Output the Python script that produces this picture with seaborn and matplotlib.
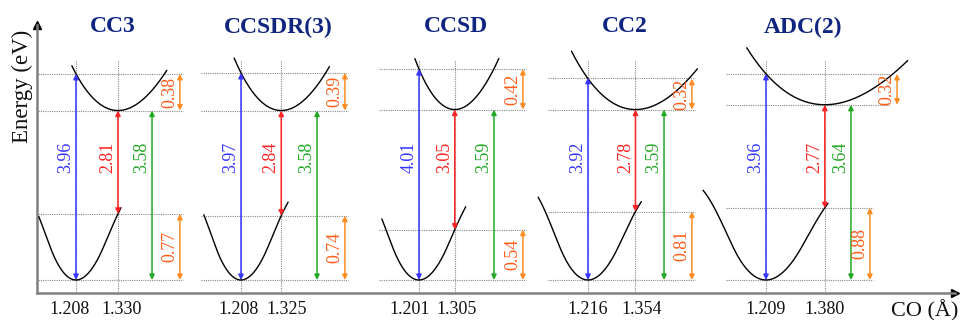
import numpy as np
import matplotlib
matplotlib.use("Agg")
import matplotlib.pyplot as plt
import seaborn as sns
from matplotlib.transforms import blended_transform_factory, ScaledTranslation

sns.set_theme(style="white")
plt.rcParams["font.family"] = ["Liberation Serif", "DejaVu Serif"]

# ---- data -------------------------------------------------------------
methods = ["CC3", "CCSDR(3)", "CCSD", "CC2", "ADC(2)"]
r_ground = [1.208, 1.208, 1.201, 1.216, 1.209]    # C-O length at S0 minimum (Å)
r_excited = [1.330, 1.325, 1.305, 1.354, 1.380]   # C-O length at S1 minimum (Å)
e_vertical = [3.96, 3.97, 4.01, 3.92, 3.96]       # vertical absorption (eV)
e_emission = [2.81, 2.84, 3.05, 2.78, 2.77]       # vertical emission (eV)
e_adiabatic = [3.58, 3.58, 3.59, 3.59, 3.64]      # adiabatic excitation (eV)
relax_excited = [0.38, 0.39, 0.42, 0.32, 0.32]    # S1 relaxation (eV)
relax_ground = [0.77, 0.74, 0.54, 0.81, 0.88]     # S0 destabilisation at S1 geometry (eV)

# ---- layout -----------------------------------------------------------
PX_PER_A = 344.0                       # canvas pixels per Å
panel_px = [76, 241, 419, 588, 766]    # where each S0 minimum sits on the canvas
panel_x = [p / PX_PER_A for p in panel_px]
lvl_left, lvl_right = -0.116, 0.311
lvl_right_top = [0.311, 0.311, 0.311, 0.311, 0.36]
green_dx = [0.221, 0.221, 0.218, 0.221, 0.247]
orange_dx_bot = 0.302
orange_dx_top = [0.302, 0.302, 0.302, 0.302, 0.381]
title_dx = 0.108
g_left = [0.108, 0.108, 0.108, 0.145, 0.183]
g_right = [0.009, 0.020, 0.032, 0.017, 0.009]
x_left = [0.134, 0.137, 0.116, 0.186, 0.227]
x_right = [0.142, 0.140, 0.128, 0.180, 0.241]
A_G, A_X = 0.8, 0.8
# horizontal nudges (px) keeping neighbouring tick labels apart
tick_nudge = [(-6, 4), (-2, 5), (-9, 2), (0, 6), (0, 0)]

C_BLUE, C_RED, C_GREEN = "#3636ff", "#ff2424", "#22a822"
C_OR_ARROW, C_OR_TEXT = "#ff8c22", "#ff5c18"
C_TITLE = "#0f2580"
C_GRID = "#8a8a8a"


# schematic energy axis: linear at the bottom and top, compressed in between
def _smooth(t):
    t = np.clip(t, 0.0, 1.0)
    return 3 * t ** 2 - 2 * t ** 3


def e_fwd(e):
    e = np.asarray(e, dtype=float)
    return 96.5 * e - 176.0 * _smooth((e - 0.35) / 3.23)


_E_GRID = np.linspace(-3, 8, 4001)
_H_GRID = e_fwd(_E_GRID)


def e_inv(h):
    return np.interp(np.asarray(h, dtype=float), _H_GRID, _E_GRID)


def morse(r, r0, r_ref, e_ref, a):
    d = e_ref / (1 - np.exp(-a * (r_ref - r0))) ** 2
    return d * (1 - np.exp(-a * (r - r0))) ** 2


fig = plt.figure(figsize=(9.6, 3.2), dpi=100)
ax = fig.add_axes([37 / 960, 27 / 320, 918 / 960, 268 / 320])
ax.set_yscale("function", functions=(e_fwd, e_inv))
ax.set_xlim(37 / PX_PER_A, 955 / PX_PER_A)
ax.set_ylim(e_inv(-13), e_inv(255))

ytop_guides = e_inv(220)
blend_fig = blended_transform_factory(ax.transData, fig.transFigure)
blend_ax = blended_transform_factory(ax.transData, ax.transAxes)


def arrow(x, e0, e1, color):
    ax.annotate("", xy=(x, e1), xytext=(x, e0),
                arrowprops=dict(arrowstyle="<|-|>", color=color, lw=1.1,
                                mutation_scale=7.5, shrinkA=0, shrinkB=0),
                zorder=4)


def vlabel(x, y, txt, color, trans):
    ax.annotate(txt, xy=(x, y), xycoords=trans, xytext=(-7.3, 0),
                textcoords="offset points", rotation=90, ha="center",
                va="center", color=color, fontsize=13, zorder=5)


tick_pos, tick_lab, tick_dx = [], [], []
for i, name in enumerate(methods):
    rg, re_ = r_ground[i], r_excited[i]
    xg = panel_x[i]
    xe = xg + (re_ - rg)
    tick_pos += [xg, xe]
    tick_lab += [f"{rg:.3f}", f"{re_:.3f}"]
    tick_dx += list(tick_nudge[i])

    # guide lines
    for xv in (xg, xe):
        ax.plot([xv, xv], [ax.get_ylim()[0], ytop_guides], color=C_GRID,
                lw=0.8, ls=(0, (1, 1)), zorder=1)
    for lvl in (0.0, relax_ground[i]):
        ax.plot([xg + lvl_left, xg + lvl_right], [lvl, lvl], color=C_GRID,
                lw=0.8, ls=(0, (1, 1)), zorder=1)
    for lvl in (e_adiabatic[i], e_vertical[i]):
        ax.plot([xg + lvl_left, xg + lvl_right_top[i]], [lvl, lvl],
                color=C_GRID, lw=0.8, ls=(0, (1, 1)), zorder=1)

    # potential energy curves
    rr = np.linspace(rg - g_left[i], re_ + g_right[i], 200)
    vg = morse(rr, rg, re_, relax_ground[i], A_G)
    sns.lineplot(x=xg + (rr - rg), y=vg, ax=ax, color="black", lw=1.0,
                 sort=False, estimator=None, zorder=3)
    rr = np.linspace(re_ - x_left[i], re_ + x_right[i], 200)
    vx = e_adiabatic[i] + morse(rr, re_, rg, relax_excited[i], A_X)
    sns.lineplot(x=xg + (rr - rg), y=vx, ax=ax, color="black", lw=1.0,
                 sort=False, estimator=None, zorder=3)

    # transitions
    arrow(xg, 0.0, e_vertical[i], C_BLUE)
    vlabel(xg, 0.505, f"{e_vertical[i]:.2f}", C_BLUE, blend_ax)
    arrow(xe, e_adiabatic[i], e_adiabatic[i] - e_emission[i], C_RED)
    vlabel(xe, 0.505, f"{e_emission[i]:.2f}", C_RED, blend_ax)
    xgr = xg + green_dx[i]
    arrow(xgr, 0.0, e_adiabatic[i], C_GREEN)
    vlabel(xgr, 0.505, f"{e_adiabatic[i]:.2f}", C_GREEN, blend_ax)

    xo = xg + orange_dx_top[i]
    top0, top1 = e_adiabatic[i], e_adiabatic[i] + relax_excited[i]
    arrow(xo, top0, top1, C_OR_ARROW)
    ymid = e_inv((e_fwd(top0) + e_fwd(top1)) / 2)
    vlabel(xo, ymid, f"{relax_excited[i]:.2f}", C_OR_TEXT, "data")
    xo = xg + orange_dx_bot
    arrow(xo, 0.0, relax_ground[i], C_OR_ARROW)
    ymid = e_inv(e_fwd(relax_ground[i]) / 2)
    vlabel(xo, ymid, f"{relax_ground[i]:.2f}", C_OR_TEXT, "data")

    ax.text(xg + title_dx, 1 - 27 / 320, name, transform=blend_fig,
            ha="center", va="center", fontsize=17, fontweight="bold",
            color=C_TITLE)

# axes with arrowheads
for side in ("top", "right"):
    ax.spines[side].set_visible(False)
for side in ("left", "bottom"):
    ax.spines[side].set_color("#808080")
    ax.spines[side].set_linewidth(1.8)
ax.plot(1, 0, ">", color="black", ms=6, transform=ax.transAxes, clip_on=False)
ax.plot(0, 1, "^", color="black", ms=6, transform=ax.transAxes, clip_on=False)

ax.set_xticks(tick_pos)
ax.set_xticklabels(tick_lab)
ax.set_yticks([])
ax.yaxis.set_minor_locator(matplotlib.ticker.NullLocator())
ax.tick_params(axis="x", length=0, pad=6, labelsize=13, labelcolor="#111111")
for lab, dx in zip(ax.get_xticklabels(), tick_dx):
    lab.set_transform(lab.get_transform()
                      + ScaledTranslation(dx / 100, 0, fig.dpi_scale_trans))

fig.text(22 / 960, 1 - 86 / 320, "Energy (eV)", rotation=90, ha="center",
         va="center", fontsize=16.5, color="#111111")
fig.text(958 / 960, 1 - 311 / 320, "CO (Å)", ha="right", va="center",
         fontsize=16, color="#111111")

fig.savefig("out.png", dpi=100)
